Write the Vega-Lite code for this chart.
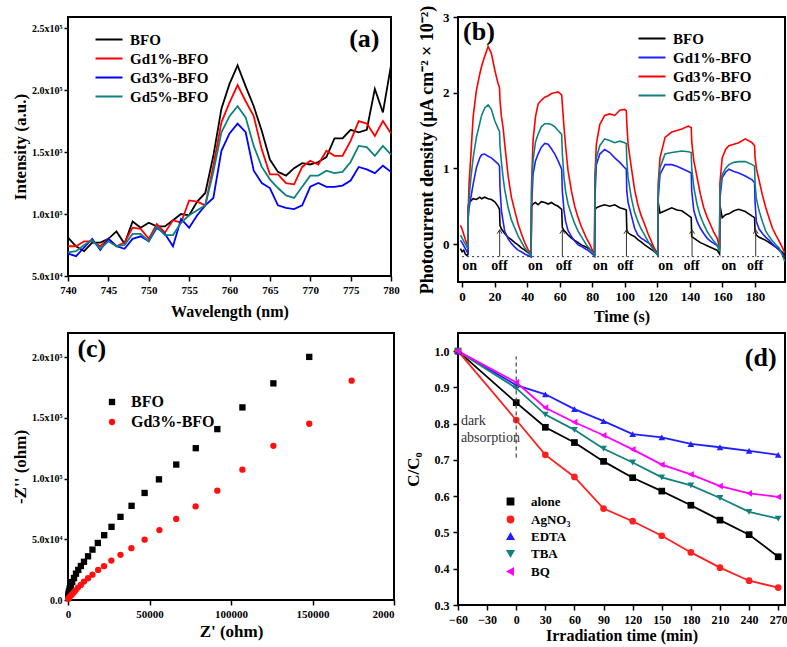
{
"$schema": "https://vega.github.io/schema/vega-lite/v6.json",
"background": "white",
"padding": {"left": 10, "top": 3, "right": 2, "bottom": 2},
"columns": 2,
"bounds": "flush",
"spacing": {"row": 51, "column": 64},
"resolve": {"scale": {"color": "independent", "shape": "independent"}, "legend": {"color": "independent", "shape": "independent"}},
"config": {
  "font": "Liberation Serif",
  "view": {"stroke": "black", "strokeWidth": 2},
  "axis": {"grid": false, "domain": false, "labelFont": "Liberation Serif", "labelFontWeight": "bold", "labelColor": "black", "tickColor": "black", "tickWidth": 1.5, "tickSize": 5, "titleFont": "Liberation Serif", "titleFontWeight": "bold", "titleColor": "black", "labelFlush": false, "labelOverlap": false},
  "legend": {"labelFont": "Liberation Serif", "labelFontWeight": "bold", "labelColor": "black", "padding": 0},
  "text": {"font": "Liberation Serif"}
},
"datasets": {
  "pl": [
    {"w":740,"BFO":81000,"Gd1%-BFO":74000,"Gd3%-BFO":68000,"Gd5%-BFO":69000},
    {"w":741,"BFO":74000,"Gd1%-BFO":74000,"Gd3%-BFO":66000,"Gd5%-BFO":70000},
    {"w":742,"BFO":70000,"Gd1%-BFO":78000,"Gd3%-BFO":73000,"Gd5%-BFO":75000},
    {"w":743,"BFO":77000,"Gd1%-BFO":78000,"Gd3%-BFO":80000,"Gd5%-BFO":79000},
    {"w":744,"BFO":77000,"Gd1%-BFO":74000,"Gd3%-BFO":71000,"Gd5%-BFO":72000},
    {"w":745,"BFO":80000,"Gd1%-BFO":80000,"Gd3%-BFO":80000,"Gd5%-BFO":78000},
    {"w":746,"BFO":86000,"Gd1%-BFO":74000,"Gd3%-BFO":74000,"Gd5%-BFO":74000},
    {"w":747,"BFO":76000,"Gd1%-BFO":77000,"Gd3%-BFO":72000,"Gd5%-BFO":75000},
    {"w":748,"BFO":94000,"Gd1%-BFO":89000,"Gd3%-BFO":80000,"Gd5%-BFO":84000},
    {"w":749,"BFO":89000,"Gd1%-BFO":88000,"Gd3%-BFO":82000,"Gd5%-BFO":84000},
    {"w":750,"BFO":93000,"Gd1%-BFO":80000,"Gd3%-BFO":78000,"Gd5%-BFO":78000},
    {"w":751,"BFO":90000,"Gd1%-BFO":92000,"Gd3%-BFO":89000,"Gd5%-BFO":90000},
    {"w":752,"BFO":90000,"Gd1%-BFO":85000,"Gd3%-BFO":84000,"Gd5%-BFO":83000},
    {"w":753,"BFO":95000,"Gd1%-BFO":95000,"Gd3%-BFO":74000,"Gd5%-BFO":83000},
    {"w":754,"BFO":100000,"Gd1%-BFO":93000,"Gd3%-BFO":96000,"Gd5%-BFO":93000},
    {"w":755,"BFO":99000,"Gd1%-BFO":111000,"Gd3%-BFO":89000,"Gd5%-BFO":99000},
    {"w":756,"BFO":110000,"Gd1%-BFO":110000,"Gd3%-BFO":99000,"Gd5%-BFO":103000},
    {"w":757,"BFO":117000,"Gd1%-BFO":107000,"Gd3%-BFO":107000,"Gd5%-BFO":107000},
    {"w":758,"BFO":147000,"Gd1%-BFO":139000,"Gd3%-BFO":113000,"Gd5%-BFO":134000},
    {"w":759,"BFO":185000,"Gd1%-BFO":174000,"Gd3%-BFO":151000,"Gd5%-BFO":166000},
    {"w":760,"BFO":205000,"Gd1%-BFO":190000,"Gd3%-BFO":165000,"Gd5%-BFO":179000},
    {"w":761,"BFO":220000,"Gd1%-BFO":204000,"Gd3%-BFO":173000,"Gd5%-BFO":187000},
    {"w":762,"BFO":203000,"Gd1%-BFO":191000,"Gd3%-BFO":166000,"Gd5%-BFO":178000},
    {"w":763,"BFO":187000,"Gd1%-BFO":179000,"Gd3%-BFO":135000,"Gd5%-BFO":155000},
    {"w":764,"BFO":167000,"Gd1%-BFO":152000,"Gd3%-BFO":125000,"Gd5%-BFO":138000},
    {"w":765,"BFO":144000,"Gd1%-BFO":132000,"Gd3%-BFO":121000,"Gd5%-BFO":128000},
    {"w":766,"BFO":134000,"Gd1%-BFO":132000,"Gd3%-BFO":107000,"Gd5%-BFO":121000},
    {"w":767,"BFO":131000,"Gd1%-BFO":125000,"Gd3%-BFO":105000,"Gd5%-BFO":115000},
    {"w":768,"BFO":137000,"Gd1%-BFO":124000,"Gd3%-BFO":104000,"Gd5%-BFO":113000},
    {"w":769,"BFO":141000,"Gd1%-BFO":138000,"Gd3%-BFO":107000,"Gd5%-BFO":122000},
    {"w":770,"BFO":140000,"Gd1%-BFO":143000,"Gd3%-BFO":122000,"Gd5%-BFO":131000},
    {"w":771,"BFO":142000,"Gd1%-BFO":140000,"Gd3%-BFO":125000,"Gd5%-BFO":131000},
    {"w":772,"BFO":146000,"Gd1%-BFO":151000,"Gd3%-BFO":122000,"Gd5%-BFO":135000},
    {"w":773,"BFO":161000,"Gd1%-BFO":147000,"Gd3%-BFO":122000,"Gd5%-BFO":133000},
    {"w":774,"BFO":161000,"Gd1%-BFO":147000,"Gd3%-BFO":123000,"Gd5%-BFO":134000},
    {"w":775,"BFO":168000,"Gd1%-BFO":159000,"Gd3%-BFO":127000,"Gd5%-BFO":142000},
    {"w":776,"BFO":166000,"Gd1%-BFO":175000,"Gd3%-BFO":138000,"Gd5%-BFO":155000},
    {"w":777,"BFO":168000,"Gd1%-BFO":173000,"Gd3%-BFO":136000,"Gd5%-BFO":154000},
    {"w":778,"BFO":201000,"Gd1%-BFO":163000,"Gd3%-BFO":133000,"Gd5%-BFO":147000},
    {"w":779,"BFO":182000,"Gd1%-BFO":175000,"Gd3%-BFO":139000,"Gd5%-BFO":155000},
    {"w":780,"BFO":220000,"Gd1%-BFO":165000,"Gd3%-BFO":134000,"Gd5%-BFO":148000}
  ],
  "pc": [
    {"t":-1,"BFO":-0.06,"Gd1%-BFO":0.05,"Gd3%-BFO":0.25,"Gd5%-BFO":0.12},
    {"t":0,"BFO":-0.10,"Gd1%-BFO":0.02,"Gd3%-BFO":0.20,"Gd5%-BFO":0.08},
    {"t":1,"BFO":-0.08,"Gd1%-BFO":-0.02,"Gd3%-BFO":0.13,"Gd5%-BFO":0.04},
    {"t":2,"BFO":-0.13,"Gd1%-BFO":-0.06,"Gd3%-BFO":0.06,"Gd5%-BFO":0.0},
    {"t":3,"BFO":-0.15,"Gd1%-BFO":-0.10,"Gd3%-BFO":0.0,"Gd5%-BFO":-0.04},
    {"t":3.6,"BFO":-0.13,"Gd1%-BFO":-0.12,"Gd3%-BFO":-0.03,"Gd5%-BFO":-0.06},
    {"t":3.8,"BFO":0.50,"Gd1%-BFO":0.35,"Gd3%-BFO":0.45,"Gd5%-BFO":0.40},
    {"t":4.3,"BFO":0.56,"Gd1%-BFO":0.48,"Gd3%-BFO":0.80,"Gd5%-BFO":0.60},
    {"t":5.3,"BFO":0.57,"Gd1%-BFO":0.60,"Gd3%-BFO":1.14,"Gd5%-BFO":0.85},
    {"t":6.8,"BFO":0.60,"Gd1%-BFO":0.79,"Gd3%-BFO":1.68,"Gd5%-BFO":1.14},
    {"t":8.8,"BFO":0.59,"Gd1%-BFO":1.01,"Gd3%-BFO":2.03,"Gd5%-BFO":1.41},
    {"t":10.9,"BFO":0.62,"Gd1%-BFO":1.14,"Gd3%-BFO":2.25,"Gd5%-BFO":1.60},
    {"t":12,"BFO":0.60,"Gd1%-BFO":1.18,"Gd3%-BFO":2.35,"Gd5%-BFO":1.70},
    {"t":13.9,"BFO":0.62,"Gd1%-BFO":1.19,"Gd3%-BFO":2.48,"Gd5%-BFO":1.80},
    {"t":16,"BFO":0.60,"Gd1%-BFO":1.16,"Gd3%-BFO":2.61,"Gd5%-BFO":1.84},
    {"t":18,"BFO":0.59,"Gd1%-BFO":1.14,"Gd3%-BFO":2.52,"Gd5%-BFO":1.78},
    {"t":20.1,"BFO":0.56,"Gd1%-BFO":1.10,"Gd3%-BFO":2.30,"Gd5%-BFO":1.63},
    {"t":22.1,"BFO":0.50,"Gd1%-BFO":1.06,"Gd3%-BFO":2.12,"Gd5%-BFO":1.53},
    {"t":23.0,"BFO":0.46,"Gd1%-BFO":1.03,"Gd3%-BFO":2.07,"Gd5%-BFO":1.49},
    {"t":23.3,"BFO":0.25,"Gd1%-BFO":0.75,"Gd3%-BFO":1.90,"Gd5%-BFO":1.30},
    {"t":24.2,"BFO":0.20,"Gd1%-BFO":0.44,"Gd3%-BFO":1.68,"Gd5%-BFO":1.08},
    {"t":25.2,"BFO":0.17,"Gd1%-BFO":0.30,"Gd3%-BFO":1.54,"Gd5%-BFO":0.88},
    {"t":26.2,"BFO":0.14,"Gd1%-BFO":0.17,"Gd3%-BFO":1.32,"Gd5%-BFO":0.72},
    {"t":28.3,"BFO":0.09,"Gd1%-BFO":0.07,"Gd3%-BFO":0.90,"Gd5%-BFO":0.48},
    {"t":30.3,"BFO":0.06,"Gd1%-BFO":0.01,"Gd3%-BFO":0.62,"Gd5%-BFO":0.32},
    {"t":32.4,"BFO":0.02,"Gd1%-BFO":-0.04,"Gd3%-BFO":0.44,"Gd5%-BFO":0.21},
    {"t":34.4,"BFO":-0.01,"Gd1%-BFO":-0.08,"Gd3%-BFO":0.27,"Gd5%-BFO":0.11},
    {"t":36.4,"BFO":-0.05,"Gd1%-BFO":-0.10,"Gd3%-BFO":0.14,"Gd5%-BFO":0.03},
    {"t":38.5,"BFO":-0.08,"Gd1%-BFO":-0.13,"Gd3%-BFO":0.02,"Gd5%-BFO":-0.05},
    {"t":40.5,"BFO":-0.11,"Gd1%-BFO":-0.15,"Gd3%-BFO":-0.07,"Gd5%-BFO":-0.10},
    {"t":42.4,"BFO":-0.15,"Gd1%-BFO":-0.17,"Gd3%-BFO":-0.14,"Gd5%-BFO":-0.16},
    {"t":42.7,"BFO":0.50,"Gd1%-BFO":0.50,"Gd3%-BFO":0.80,"Gd5%-BFO":0.70},
    {"t":43.6,"BFO":0.53,"Gd1%-BFO":0.92,"Gd3%-BFO":1.37,"Gd5%-BFO":1.10},
    {"t":45.1,"BFO":0.55,"Gd1%-BFO":1.10,"Gd3%-BFO":1.68,"Gd5%-BFO":1.35},
    {"t":46.7,"BFO":0.52,"Gd1%-BFO":1.19,"Gd3%-BFO":1.85,"Gd5%-BFO":1.45},
    {"t":48.7,"BFO":0.56,"Gd1%-BFO":1.28,"Gd3%-BFO":1.90,"Gd5%-BFO":1.55},
    {"t":50.8,"BFO":0.55,"Gd1%-BFO":1.33,"Gd3%-BFO":1.94,"Gd5%-BFO":1.59},
    {"t":52.9,"BFO":0.53,"Gd1%-BFO":1.32,"Gd3%-BFO":1.96,"Gd5%-BFO":1.59},
    {"t":54.9,"BFO":0.55,"Gd1%-BFO":1.26,"Gd3%-BFO":1.99,"Gd5%-BFO":1.58},
    {"t":57,"BFO":0.52,"Gd1%-BFO":1.19,"Gd3%-BFO":2.00,"Gd5%-BFO":1.55},
    {"t":59,"BFO":0.50,"Gd1%-BFO":1.10,"Gd3%-BFO":2.01,"Gd5%-BFO":1.50},
    {"t":61.2,"BFO":0.46,"Gd1%-BFO":0.99,"Gd3%-BFO":1.97,"Gd5%-BFO":1.45},
    {"t":61.6,"BFO":0.22,"Gd1%-BFO":0.70,"Gd3%-BFO":1.85,"Gd5%-BFO":1.20},
    {"t":62.6,"BFO":0.18,"Gd1%-BFO":0.45,"Gd3%-BFO":1.55,"Gd5%-BFO":0.88},
    {"t":63.6,"BFO":0.16,"Gd1%-BFO":0.30,"Gd3%-BFO":1.30,"Gd5%-BFO":0.70},
    {"t":65.1,"BFO":0.12,"Gd1%-BFO":0.18,"Gd3%-BFO":0.97,"Gd5%-BFO":0.53},
    {"t":67.2,"BFO":0.08,"Gd1%-BFO":0.10,"Gd3%-BFO":0.70,"Gd5%-BFO":0.39},
    {"t":69.2,"BFO":0.05,"Gd1%-BFO":0.04,"Gd3%-BFO":0.50,"Gd5%-BFO":0.27},
    {"t":71.3,"BFO":0.02,"Gd1%-BFO":-0.01,"Gd3%-BFO":0.35,"Gd5%-BFO":0.17},
    {"t":73.3,"BFO":-0.01,"Gd1%-BFO":-0.03,"Gd3%-BFO":0.23,"Gd5%-BFO":0.10},
    {"t":76.4,"BFO":-0.04,"Gd1%-BFO":-0.07,"Gd3%-BFO":0.08,"Gd5%-BFO":-0.01},
    {"t":78.4,"BFO":-0.07,"Gd1%-BFO":-0.10,"Gd3%-BFO":0.00,"Gd5%-BFO":-0.06},
    {"t":80.5,"BFO":-0.11,"Gd1%-BFO":-0.14,"Gd3%-BFO":-0.10,"Gd5%-BFO":-0.12},
    {"t":81.4,"BFO":-0.15,"Gd1%-BFO":-0.16,"Gd3%-BFO":-0.13,"Gd5%-BFO":-0.15},
    {"t":81.6,"BFO":0.45,"Gd1%-BFO":0.60,"Gd3%-BFO":0.90,"Gd5%-BFO":0.80},
    {"t":82.5,"BFO":0.48,"Gd1%-BFO":1.05,"Gd3%-BFO":1.32,"Gd5%-BFO":1.14},
    {"t":84.6,"BFO":0.50,"Gd1%-BFO":1.19,"Gd3%-BFO":1.58,"Gd5%-BFO":1.30},
    {"t":87.6,"BFO":0.52,"Gd1%-BFO":1.25,"Gd3%-BFO":1.70,"Gd5%-BFO":1.39},
    {"t":90.7,"BFO":0.50,"Gd1%-BFO":1.21,"Gd3%-BFO":1.72,"Gd5%-BFO":1.37},
    {"t":93.8,"BFO":0.52,"Gd1%-BFO":1.14,"Gd3%-BFO":1.70,"Gd5%-BFO":1.34},
    {"t":96.9,"BFO":0.48,"Gd1%-BFO":1.08,"Gd3%-BFO":1.77,"Gd5%-BFO":1.36},
    {"t":99.9,"BFO":0.46,"Gd1%-BFO":1.01,"Gd3%-BFO":1.78,"Gd5%-BFO":1.34},
    {"t":100.9,"BFO":0.45,"Gd1%-BFO":0.99,"Gd3%-BFO":1.76,"Gd5%-BFO":1.33},
    {"t":101.2,"BFO":0.19,"Gd1%-BFO":0.70,"Gd3%-BFO":1.60,"Gd5%-BFO":1.10},
    {"t":102,"BFO":0.15,"Gd1%-BFO":0.55,"Gd3%-BFO":1.32,"Gd5%-BFO":0.88},
    {"t":104,"BFO":0.12,"Gd1%-BFO":0.38,"Gd3%-BFO":1.01,"Gd5%-BFO":0.61},
    {"t":106,"BFO":0.10,"Gd1%-BFO":0.21,"Gd3%-BFO":0.72,"Gd5%-BFO":0.42},
    {"t":108,"BFO":0.06,"Gd1%-BFO":0.12,"Gd3%-BFO":0.52,"Gd5%-BFO":0.30},
    {"t":110,"BFO":0.03,"Gd1%-BFO":0.08,"Gd3%-BFO":0.38,"Gd5%-BFO":0.20},
    {"t":112.2,"BFO":-0.01,"Gd1%-BFO":0.05,"Gd3%-BFO":0.26,"Gd5%-BFO":0.12},
    {"t":114.2,"BFO":-0.04,"Gd1%-BFO":0.02,"Gd3%-BFO":0.14,"Gd5%-BFO":0.04},
    {"t":116.2,"BFO":-0.07,"Gd1%-BFO":-0.01,"Gd3%-BFO":0.04,"Gd5%-BFO":-0.03},
    {"t":118.2,"BFO":-0.10,"Gd1%-BFO":-0.06,"Gd3%-BFO":-0.06,"Gd5%-BFO":-0.09},
    {"t":120.2,"BFO":-0.14,"Gd1%-BFO":-0.13,"Gd3%-BFO":-0.14,"Gd5%-BFO":-0.15},
    {"t":120.5,"BFO":0.55,"Gd1%-BFO":0.60,"Gd3%-BFO":0.80,"Gd5%-BFO":0.70},
    {"t":121.6,"BFO":0.41,"Gd1%-BFO":0.92,"Gd3%-BFO":1.14,"Gd5%-BFO":1.01},
    {"t":124.7,"BFO":0.44,"Gd1%-BFO":1.05,"Gd3%-BFO":1.41,"Gd5%-BFO":1.19},
    {"t":128.8,"BFO":0.48,"Gd1%-BFO":1.05,"Gd3%-BFO":1.48,"Gd5%-BFO":1.21},
    {"t":132,"BFO":0.45,"Gd1%-BFO":1.03,"Gd3%-BFO":1.50,"Gd5%-BFO":1.22},
    {"t":135,"BFO":0.44,"Gd1%-BFO":1.00,"Gd3%-BFO":1.52,"Gd5%-BFO":1.23},
    {"t":139,"BFO":0.38,"Gd1%-BFO":0.96,"Gd3%-BFO":1.56,"Gd5%-BFO":1.22},
    {"t":140.8,"BFO":0.35,"Gd1%-BFO":0.94,"Gd3%-BFO":1.54,"Gd5%-BFO":1.21},
    {"t":141.1,"BFO":0.10,"Gd1%-BFO":0.70,"Gd3%-BFO":1.35,"Gd5%-BFO":1.00},
    {"t":142.4,"BFO":0.08,"Gd1%-BFO":0.44,"Gd3%-BFO":1.10,"Gd5%-BFO":0.75},
    {"t":144.4,"BFO":0.05,"Gd1%-BFO":0.30,"Gd3%-BFO":0.88,"Gd5%-BFO":0.52},
    {"t":146.4,"BFO":0.02,"Gd1%-BFO":0.21,"Gd3%-BFO":0.66,"Gd5%-BFO":0.37},
    {"t":148.5,"BFO":0.00,"Gd1%-BFO":0.14,"Gd3%-BFO":0.48,"Gd5%-BFO":0.26},
    {"t":150.5,"BFO":-0.02,"Gd1%-BFO":0.08,"Gd3%-BFO":0.36,"Gd5%-BFO":0.17},
    {"t":152.6,"BFO":-0.04,"Gd1%-BFO":0.04,"Gd3%-BFO":0.26,"Gd5%-BFO":0.10},
    {"t":154.6,"BFO":-0.06,"Gd1%-BFO":0.01,"Gd3%-BFO":0.16,"Gd5%-BFO":0.04},
    {"t":156.7,"BFO":-0.08,"Gd1%-BFO":-0.02,"Gd3%-BFO":0.08,"Gd5%-BFO":-0.01},
    {"t":158.2,"BFO":-0.13,"Gd1%-BFO":-0.05,"Gd3%-BFO":-0.05,"Gd5%-BFO":-0.10},
    {"t":158.4,"BFO":0.52,"Gd1%-BFO":0.60,"Gd3%-BFO":0.80,"Gd5%-BFO":0.70},
    {"t":159.8,"BFO":0.35,"Gd1%-BFO":0.88,"Gd3%-BFO":1.14,"Gd5%-BFO":0.92},
    {"t":161.9,"BFO":0.39,"Gd1%-BFO":0.95,"Gd3%-BFO":1.25,"Gd5%-BFO":1.00},
    {"t":163.9,"BFO":0.40,"Gd1%-BFO":0.99,"Gd3%-BFO":1.30,"Gd5%-BFO":1.05},
    {"t":167,"BFO":0.44,"Gd1%-BFO":0.96,"Gd3%-BFO":1.32,"Gd5%-BFO":1.08},
    {"t":170,"BFO":0.46,"Gd1%-BFO":0.94,"Gd3%-BFO":1.34,"Gd5%-BFO":1.09},
    {"t":174,"BFO":0.43,"Gd1%-BFO":0.90,"Gd3%-BFO":1.39,"Gd5%-BFO":1.09},
    {"t":178.2,"BFO":0.37,"Gd1%-BFO":0.85,"Gd3%-BFO":1.34,"Gd5%-BFO":1.05},
    {"t":179.7,"BFO":0.35,"Gd1%-BFO":0.81,"Gd3%-BFO":1.30,"Gd5%-BFO":1.03},
    {"t":180,"BFO":0.17,"Gd1%-BFO":0.55,"Gd3%-BFO":1.15,"Gd5%-BFO":0.80},
    {"t":180.8,"BFO":0.12,"Gd1%-BFO":0.30,"Gd3%-BFO":1.00,"Gd5%-BFO":0.60},
    {"t":182.5,"BFO":0.09,"Gd1%-BFO":0.20,"Gd3%-BFO":0.84,"Gd5%-BFO":0.44},
    {"t":184.5,"BFO":0.07,"Gd1%-BFO":0.14,"Gd3%-BFO":0.65,"Gd5%-BFO":0.30},
    {"t":186.6,"BFO":0.05,"Gd1%-BFO":0.09,"Gd3%-BFO":0.48,"Gd5%-BFO":0.17},
    {"t":188.7,"BFO":0.02,"Gd1%-BFO":0.05,"Gd3%-BFO":0.34,"Gd5%-BFO":0.10},
    {"t":190.7,"BFO":-0.01,"Gd1%-BFO":0.00,"Gd3%-BFO":0.21,"Gd5%-BFO":0.04},
    {"t":192.8,"BFO":-0.04,"Gd1%-BFO":-0.04,"Gd3%-BFO":0.12,"Gd5%-BFO":-0.01},
    {"t":194.8,"BFO":-0.07,"Gd1%-BFO":-0.08,"Gd3%-BFO":0.04,"Gd5%-BFO":-0.05},
    {"t":196.9,"BFO":-0.11,"Gd1%-BFO":-0.13,"Gd3%-BFO":-0.05,"Gd5%-BFO":-0.15},
    {"t":198.3,"BFO":-0.15,"Gd1%-BFO":-0.17,"Gd3%-BFO":-0.12,"Gd5%-BFO":-0.23}
  ],
  "eis": [
    {"s":"BFO","x":148000,"y":200300},{"s":"BFO","x":126000,"y":178500},{"s":"BFO","x":107000,"y":158700},
    {"s":"BFO","x":91600,"y":140800},{"s":"BFO","x":78400,"y":125100},{"s":"BFO","x":66400,"y":111600},
    {"s":"BFO","x":55800,"y":99400},{"s":"BFO","x":47000,"y":88200},{"s":"BFO","x":39000,"y":77600},
    {"s":"BFO","x":32200,"y":68500},{"s":"BFO","x":26700,"y":60300},{"s":"BFO","x":22200,"y":53400},
    {"s":"BFO","x":18300,"y":47000},{"s":"BFO","x":15000,"y":41500},{"s":"BFO","x":12300,"y":36000},
    {"s":"BFO","x":9800,"y":31500},{"s":"BFO","x":7900,"y":28000},{"s":"BFO","x":6300,"y":24800},
    {"s":"BFO","x":4900,"y":21700},{"s":"BFO","x":3700,"y":18100},{"s":"BFO","x":2600,"y":14800},
    {"s":"BFO","x":1700,"y":11800},{"s":"BFO","x":1000,"y":9300},{"s":"BFO","x":600,"y":7100},
    {"s":"BFO","x":300,"y":5200},{"s":"BFO","x":150,"y":3500},
    {"s":"Gd3%-BFO","x":174000,"y":180700},{"s":"Gd3%-BFO","x":148000,"y":145200},{"s":"Gd3%-BFO","x":126000,"y":127000},
    {"s":"Gd3%-BFO","x":107000,"y":107400},{"s":"Gd3%-BFO","x":91600,"y":90100},{"s":"Gd3%-BFO","x":78300,"y":77100},
    {"s":"Gd3%-BFO","x":66400,"y":66800},{"s":"Gd3%-BFO","x":56100,"y":57600},{"s":"Gd3%-BFO","x":47000,"y":49700},
    {"s":"Gd3%-BFO","x":38900,"y":42700},{"s":"Gd3%-BFO","x":32200,"y":37200},{"s":"Gd3%-BFO","x":26600,"y":32500},
    {"s":"Gd3%-BFO","x":22100,"y":27900},{"s":"Gd3%-BFO","x":18500,"y":24800},{"s":"Gd3%-BFO","x":15000,"y":20900},
    {"s":"Gd3%-BFO","x":12300,"y":17900},{"s":"Gd3%-BFO","x":9800,"y":15200},{"s":"Gd3%-BFO","x":7900,"y":12400},
    {"s":"Gd3%-BFO","x":6100,"y":10200},{"s":"Gd3%-BFO","x":4700,"y":8000},{"s":"Gd3%-BFO","x":3500,"y":6100},
    {"s":"Gd3%-BFO","x":2300,"y":4400},{"s":"Gd3%-BFO","x":1300,"y":3000},{"s":"Gd3%-BFO","x":600,"y":1700},
    {"s":"Gd3%-BFO","x":200,"y":800}
  ],
  "deg": [
    {"t":-60,"alone":1.0,"AgNO₃":1.0,"EDTA":1.0,"TBA":1.0,"BQ":1.0},
    {"t":0,"alone":0.858,"AgNO₃":0.81,"EDTA":0.906,"TBA":0.898,"BQ":0.914},
    {"t":30,"alone":0.79,"AgNO₃":0.714,"EDTA":0.881,"TBA":0.825,"BQ":0.844},
    {"t":60,"alone":0.748,"AgNO₃":0.653,"EDTA":0.84,"TBA":0.783,"BQ":0.804},
    {"t":90,"alone":0.696,"AgNO₃":0.566,"EDTA":0.807,"TBA":0.731,"BQ":0.768},
    {"t":120,"alone":0.651,"AgNO₃":0.531,"EDTA":0.771,"TBA":0.693,"BQ":0.729},
    {"t":150,"alone":0.614,"AgNO₃":0.491,"EDTA":0.762,"TBA":0.652,"BQ":0.687},
    {"t":180,"alone":0.575,"AgNO₃":0.445,"EDTA":0.744,"TBA":0.63,"BQ":0.66},
    {"t":210,"alone":0.534,"AgNO₃":0.403,"EDTA":0.735,"TBA":0.595,"BQ":0.628},
    {"t":240,"alone":0.494,"AgNO₃":0.367,"EDTA":0.725,"TBA":0.557,"BQ":0.608},
    {"t":270,"alone":0.433,"AgNO₃":0.348,"EDTA":0.714,"TBA":0.538,"BQ":0.598}
  ]
},
"concat": [
  {
    "width": 323, "height": 259,
    "layer": [
      {
        "data": {"name": "pl"},
        "transform": [{"fold": ["BFO", "Gd1%-BFO", "Gd3%-BFO", "Gd5%-BFO"], "as": ["s", "v"]}],
        "mark": {"type": "line", "strokeWidth": 1.8},
        "encoding": {
          "x": {"field": "w", "type": "quantitative", "scale": {"domain": [740, 780], "nice": false, "zero": false},
                "axis": {"values": [740, 745, 750, 755, 760, 765, 770, 775, 780], "labelOverlap": false, "title": "Wavelength (nm)", "labelFontSize": 11, "titleFontSize": 16, "labelPadding": 3, "titlePadding": 8}},
          "y": {"field": "v", "type": "quantitative", "scale": {"domain": [50000, 259000], "nice": false, "zero": false},
                "axis": {"values": [50000, 100000, 150000, 200000, 250000], "labelOverlap": false, "title": "Intensity (a.u.)", "labelFontSize": 10, "titleFontSize": 17, "tickSize": 4, "labelPadding": 2, "titlePadding": 2,
                         "labelExpr": "datum.value < 100000 ? format(datum.value/10000,'.1f') + 'x10⁴' : format(datum.value/100000,'.1f') + 'x10⁵'"}},
          "color": {"field": "s", "type": "nominal",
                    "scale": {"domain": ["BFO", "Gd1%-BFO", "Gd3%-BFO", "Gd5%-BFO"], "range": ["#000000", "#ff0000", "#0000ff", "#0f8080"]},
                    "legend": {"title": null, "orient": "none", "legendX": 44, "legendY": 15, "symbolType": "M-8,0L1,0", "symbolSize": 36, "symbolStrokeWidth": 2, "labelFontSize": 15, "labelOffset": 3, "rowPadding": 3}}
        }
      },
      {
        "data": {"values": [{}]},
        "mark": {"type": "text", "fontSize": 26, "fontWeight": "bold", "align": "center", "baseline": "middle", "color": "black"},
        "encoding": {"x": {"datum": 776.7, "type": "quantitative"}, "y": {"datum": 241000, "type": "quantitative"}, "text": {"value": "(a)"}}
      }
    ]
  },
  {
    "width": 327, "height": 265,
    "resolve": {"axis": {"x": "independent", "y": "independent"}},
    "layer": [
      {
        "data": {"name": "pc"},
        "transform": [{"fold": ["BFO", "Gd1%-BFO", "Gd3%-BFO", "Gd5%-BFO"], "as": ["s", "v"]}],
        "mark": {"type": "line", "strokeWidth": 1.6, "clip": true},
        "encoding": {
          "x": {"field": "t", "type": "quantitative", "scale": {"domain": [-2.5, 198.4], "nice": false, "zero": false},
                "axis": {"values": [0, 20, 40, 60, 80, 100, 120, 140, 160, 180], "labelOverlap": false, "title": "Time (s)", "labelFontSize": 13, "titleFontSize": 16, "labelPadding": 3, "titlePadding": 5}},
          "y": {"field": "v", "type": "quantitative", "scale": {"domain": [-0.5, 3], "nice": false, "zero": false},
                "axis": {"values": [0, 1, 2, 3], "format": "d", "labelOverlap": false, "title": "Photocurrent density (μA cm⁻² × 10⁻²)", "labelFontSize": 13, "titleFontSize": 18, "labelPadding": 4, "titlePadding": 6}},
          "color": {"field": "s", "type": "nominal",
                    "scale": {"domain": ["BFO", "Gd1%-BFO", "Gd3%-BFO", "Gd5%-BFO"], "range": ["#000000", "#1f1fff", "#ff0000", "#0f8080"]},
                    "legend": {"title": null, "orient": "none", "legendX": 197, "legendY": 14, "symbolType": "M-8,0L1,0", "symbolSize": 36, "symbolStrokeWidth": 2, "labelFontSize": 15, "labelOffset": 3, "rowPadding": 3}}
        }
      },
      {
        "data": {"values": [{}]},
        "mark": {"type": "rule", "strokeDash": [2, 3], "color": "#333333", "strokeWidth": 1},
        "encoding": {"x": {"datum": 0, "type": "quantitative", "axis": null}, "x2": {"datum": 198}, "y": {"datum": -0.165, "type": "quantitative", "axis": null}}
      },
      {
        "data": {"values": [{"t": 23.1}, {"t": 61.6}, {"t": 101}, {"t": 141.3}, {"t": 180.4}]},
        "mark": {"type": "rule", "color": "#333333", "strokeWidth": 1},
        "encoding": {"x": {"field": "t", "type": "quantitative", "axis": null}, "y": {"datum": -0.165, "type": "quantitative", "axis": null}, "y2": {"datum": 0.19}}
      },
      {
        "data": {"values": [{"t": 23.1}, {"t": 61.6}, {"t": 101}, {"t": 141.3}, {"t": 180.4}]},
        "mark": {"type": "point", "shape": "M-1,1.6L0,0L1,1.6", "size": 25, "filled": false, "color": "#333333", "strokeWidth": 1, "opacity": 1},
        "encoding": {"x": {"field": "t", "type": "quantitative", "axis": null}, "y": {"datum": 0.19, "type": "quantitative", "axis": null}}
      },
      {
        "data": {"values": [{"t": 4.7, "lab": "on"}, {"t": 45, "lab": "on"}, {"t": 85, "lab": "on"}, {"t": 125, "lab": "on"}, {"t": 164, "lab": "on"},
                             {"t": 23, "lab": "off"}, {"t": 62.5, "lab": "off"}, {"t": 100.3, "lab": "off"}, {"t": 141, "lab": "off"}, {"t": 180, "lab": "off"}]},
        "mark": {"type": "text", "fontSize": 14, "fontWeight": "bold", "align": "center", "baseline": "middle", "color": "black"},
        "encoding": {"x": {"field": "t", "type": "quantitative", "axis": null}, "y": {"datum": -0.29, "type": "quantitative", "axis": null}, "text": {"field": "lab"}}
      },
      {
        "data": {"values": [{}]},
        "mark": {"type": "text", "fontSize": 26, "fontWeight": "bold", "align": "center", "baseline": "middle", "color": "black"},
        "encoding": {"x": {"datum": 10.4, "type": "quantitative", "axis": null}, "y": {"datum": 2.8, "type": "quantitative", "axis": null}, "text": {"value": "(b)"}}
      }
    ]
  },
  {
    "width": 326, "height": 267,
    "layer": [
      {
        "data": {"name": "eis"},
        "mark": {"type": "point", "filled": true, "size": 40, "opacity": 1},
        "encoding": {
          "x": {"field": "x", "type": "quantitative", "scale": {"domain": [0, 200000], "nice": false, "zero": false},
                "axis": {"values": [0, 50000, 100000, 150000, 200000], "labelOverlap": false, "title": "Z' (ohm)", "labelFontSize": 11, "titleFontSize": 17, "labelPadding": 3, "titlePadding": 4,
                         "labelExpr": "datum.value == 200000 ? '2000' : format(datum.value, 'd')",
                         "labelAlign": {"condition": {"test": "datum.value == 200000", "value": "right"}, "value": "center"}}},
          "y": {"field": "y", "type": "quantitative", "scale": {"domain": [0, 220000], "nice": false, "zero": false},
                "axis": {"values": [0, 50000, 100000, 150000, 200000], "labelOverlap": false, "title": "-Z'' (ohm)", "labelFontSize": 10, "titleFontSize": 17, "tickSize": 4, "labelPadding": 2, "titlePadding": 2,
                         "labelExpr": "datum.value == 0 ? '0.0' : datum.value < 100000 ? format(datum.value/10000,'.1f') + 'x10⁴' : format(datum.value/100000,'.1f') + 'x10⁵'"}},
          "color": {"field": "s", "type": "nominal", "scale": {"domain": ["BFO", "Gd3%-BFO"], "range": ["#000000", "#ff1010"]},
                    "legend": {"title": null, "orient": "none", "legendX": 36, "legendY": 61, "symbolSize": 40, "symbolStrokeWidth": 0, "labelFontSize": 16, "labelOffset": 11, "rowPadding": 4}},
          "shape": {"field": "s", "type": "nominal", "scale": {"domain": ["BFO", "Gd3%-BFO"], "range": ["square", "circle"]},
                    "legend": {"title": null, "orient": "none", "legendX": 36, "legendY": 61, "symbolSize": 40, "symbolStrokeWidth": 0, "labelFontSize": 16, "labelOffset": 11, "rowPadding": 4}}
        }
      },
      {
        "data": {"values": [{}]},
        "mark": {"type": "text", "fontSize": 26, "fontWeight": "bold", "align": "center", "baseline": "middle", "color": "black"},
        "encoding": {"x": {"datum": 14600, "type": "quantitative"}, "y": {"datum": 207000, "type": "quantitative"}, "text": {"value": "(c)"}}
      }
    ]
  },
  {
    "width": 327, "height": 272,
    "resolve": {"axis": {"x": "independent", "y": "independent"}},
    "layer": [
      {
        "data": {"name": "deg"},
        "transform": [{"fold": ["alone", "AgNO₃", "EDTA", "TBA", "BQ"], "as": ["s", "v"]}],
        "mark": {"type": "line", "strokeWidth": 1.8},
        "encoding": {
          "x": {"field": "t", "type": "quantitative", "scale": {"domain": [-60, 277], "nice": false, "zero": false},
                "axis": {"values": [-60, -30, 0, 30, 60, 90, 120, 150, 180, 210, 240, 270], "labelOverlap": false, "title": "Irradiation time (min)", "labelFontSize": 12, "titleFontSize": 16, "labelPadding": 4, "titlePadding": 2}},
          "y": {"field": "v", "type": "quantitative", "scale": {"domain": [0.3, 1.05], "nice": false, "zero": false},
                "axis": {"values": [0.3, 0.4, 0.5, 0.6, 0.7, 0.8, 0.9, 1.0], "labelOverlap": false, "format": ".1f", "title": "C/C₀", "labelFontSize": 12, "titleFontSize": 17, "labelPadding": 4, "titlePadding": 12}},
          "color": {"field": "s", "type": "nominal", "scale": {"domain": ["alone", "AgNO₃", "EDTA", "TBA", "BQ"], "range": ["#000000", "#ff1f1f", "#1f1fff", "#138080", "#ff00ff"]},
                    "legend": {"title": null, "orient": "none", "legendX": 46, "legendY": 162, "symbolSize": 36, "labelFontSize": 13, "labelOffset": 14, "rowPadding": 3,
                               "encode": {"symbols": {"update": {
                                 "shape": {"signal": "datum.value === 'alone' ? 'M-4.6,0L4.6,0M-1,-1L1,-1L1,1L-1,1Z' : datum.value === 'EDTA' ? 'M-4.6,0L4.6,0M0,-1.2L1.2,0.9L-1.2,0.9Z' : datum.value === 'TBA' ? 'M-4.6,0L4.6,0M0,1.2L1.2,-0.9L-1.2,-0.9Z' : datum.value === 'BQ' ? 'M-4.6,0L4.6,0M-1.2,0L0.9,-1.2L0.9,1.2Z' : 'M-4.6,0L4.6,0M-1.1,0A1.1,1.1,0,1,0,1.1,0A1.1,1.1,0,1,0,-1.1,0Z'"},
                                 "stroke": {"signal": "datum.value === 'alone' ? '#000000' : datum.value === 'EDTA' ? '#1f1fff' : datum.value === 'TBA' ? '#138080' : datum.value === 'BQ' ? '#ff00ff' : '#ff1f1f'"},
                                 "fill": {"signal": "datum.value === 'alone' ? '#000000' : datum.value === 'EDTA' ? '#1f1fff' : datum.value === 'TBA' ? '#138080' : datum.value === 'BQ' ? '#ff00ff' : '#ff1f1f'"},
                                 "opacity": {"value": 1},
                                 "strokeWidth": {"value": 1.8}}}}}}
        }
      },
      {
        "data": {"name": "deg"},
        "transform": [{"fold": ["alone", "AgNO₃", "EDTA", "TBA", "BQ"], "as": ["s", "v"]}],
        "mark": {"type": "point", "filled": true, "size": 45, "opacity": 1},
        "encoding": {
          "x": {"field": "t", "type": "quantitative", "axis": null},
          "y": {"field": "v", "type": "quantitative", "axis": null},
          "color": {"field": "s", "type": "nominal",
                    "legend": {"title": null, "orient": "none", "legendX": 46, "legendY": 162, "symbolSize": 36, "labelFontSize": 13, "labelOffset": 14, "rowPadding": 3,
                               "encode": {"symbols": {"update": {
                                 "shape": {"signal": "datum.value === 'alone' ? 'M-4.6,0L4.6,0M-1,-1L1,-1L1,1L-1,1Z' : datum.value === 'EDTA' ? 'M-4.6,0L4.6,0M0,-1.2L1.2,0.9L-1.2,0.9Z' : datum.value === 'TBA' ? 'M-4.6,0L4.6,0M0,1.2L1.2,-0.9L-1.2,-0.9Z' : datum.value === 'BQ' ? 'M-4.6,0L4.6,0M-1.2,0L0.9,-1.2L0.9,1.2Z' : 'M-4.6,0L4.6,0M-1.1,0A1.1,1.1,0,1,0,1.1,0A1.1,1.1,0,1,0,-1.1,0Z'"},
                                 "stroke": {"signal": "datum.value === 'alone' ? '#000000' : datum.value === 'EDTA' ? '#1f1fff' : datum.value === 'TBA' ? '#138080' : datum.value === 'BQ' ? '#ff00ff' : '#ff1f1f'"},
                                 "fill": {"signal": "datum.value === 'alone' ? '#000000' : datum.value === 'EDTA' ? '#1f1fff' : datum.value === 'TBA' ? '#138080' : datum.value === 'BQ' ? '#ff00ff' : '#ff1f1f'"},
                                 "opacity": {"value": 1},
                                 "strokeWidth": {"value": 1.8}}}}}},
          "shape": {"field": "s", "type": "nominal", "scale": {"domain": ["alone", "AgNO₃", "EDTA", "TBA", "BQ"], "range": ["square", "circle", "triangle-up", "triangle-down", "triangle-left"]},
                    "legend": {"title": null, "orient": "none", "legendX": 46, "legendY": 162, "symbolSize": 36, "labelFontSize": 13, "labelOffset": 14, "rowPadding": 3,
                               "encode": {"symbols": {"update": {
                                 "shape": {"signal": "datum.value === 'alone' ? 'M-4.6,0L4.6,0M-1,-1L1,-1L1,1L-1,1Z' : datum.value === 'EDTA' ? 'M-4.6,0L4.6,0M0,-1.2L1.2,0.9L-1.2,0.9Z' : datum.value === 'TBA' ? 'M-4.6,0L4.6,0M0,1.2L1.2,-0.9L-1.2,-0.9Z' : datum.value === 'BQ' ? 'M-4.6,0L4.6,0M-1.2,0L0.9,-1.2L0.9,1.2Z' : 'M-4.6,0L4.6,0M-1.1,0A1.1,1.1,0,1,0,1.1,0A1.1,1.1,0,1,0,-1.1,0Z'"},
                                 "stroke": {"signal": "datum.value === 'alone' ? '#000000' : datum.value === 'EDTA' ? '#1f1fff' : datum.value === 'TBA' ? '#138080' : datum.value === 'BQ' ? '#ff00ff' : '#ff1f1f'"},
                                 "fill": {"signal": "datum.value === 'alone' ? '#000000' : datum.value === 'EDTA' ? '#1f1fff' : datum.value === 'TBA' ? '#138080' : datum.value === 'BQ' ? '#ff00ff' : '#ff1f1f'"},
                                 "opacity": {"value": 1},
                                 "strokeWidth": {"value": 1.8}}}}}}
        }
      },
      {
        "data": {"values": [{}]},
        "mark": {"type": "rule", "strokeDash": [4, 3], "color": "#444444", "strokeWidth": 1.2},
        "encoding": {"x": {"datum": 0, "type": "quantitative", "axis": null}, "y": {"datum": 0.707, "type": "quantitative", "axis": null}, "y2": {"datum": 0.985}}
      },
      {
        "data": {"values": [{"lab": "dark", "v": 0.807}, {"lab": "absorption", "v": 0.76}]},
        "mark": {"type": "text", "fontSize": 14, "align": "left", "baseline": "middle", "color": "#333333"},
        "encoding": {"x": {"datum": -57, "type": "quantitative", "axis": null}, "y": {"field": "v", "type": "quantitative", "axis": null}, "text": {"field": "lab"}}
      },
      {
        "data": {"values": [{}]},
        "mark": {"type": "text", "fontSize": 26, "fontWeight": "bold", "align": "center", "baseline": "middle", "color": "black"},
        "encoding": {"x": {"datum": 252, "type": "quantitative", "axis": null}, "y": {"datum": 0.98, "type": "quantitative", "axis": null}, "text": {"value": "(d)"}}
      }
    ]
  }
]
}
